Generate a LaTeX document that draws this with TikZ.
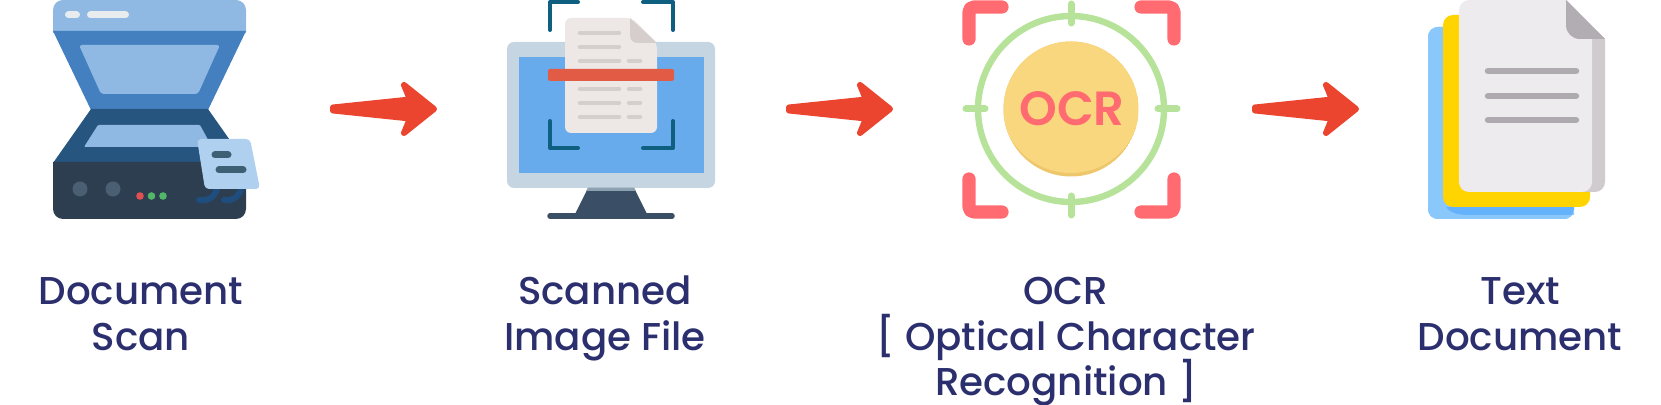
\documentclass[tikz,border=0pt]{standalone}
\usepackage{fontspec}
\setmainfont{Poppins}
\newfontfamily\labelfont{Poppins Medium}
\usetikzlibrary{calc}
\definecolor{labelink}{HTML}{2B2F6E}
\definecolor{arrowred}{HTML}{EB4530}
\definecolor{lidpale}{HTML}{8FB8E2}
\definecolor{lidblue}{HTML}{4480C0}
\definecolor{lidbar}{HTML}{E9ECEF}
\definecolor{deckblue}{HTML}{265580}
\definecolor{basedark}{HTML}{2C3E50}
\definecolor{knobgrey}{HTML}{4A6072}
\definecolor{ledred}{HTML}{E05050}
\definecolor{ledgreen}{HTML}{50B868}
\definecolor{sheetblue}{HTML}{B0D0EF}
\definecolor{sheetline}{HTML}{3E6074}
\definecolor{hookblue}{HTML}{1F4E7E}
\definecolor{bezel}{HTML}{C5D5E2}
\definecolor{screenblue}{HTML}{68ABEC}
\definecolor{standdark}{HTML}{3A4F65}
\definecolor{standtop}{HTML}{8CA2B0}
\definecolor{framepetrol}{HTML}{0F6080}
\definecolor{pagewarm}{HTML}{EDE7E6}
\definecolor{foldwarm}{HTML}{D5CECC}
\definecolor{textwarm}{HTML}{D4CFCD}
\definecolor{scanbar}{HTML}{E25B45}
\definecolor{ocrred}{HTML}{FF6B70}
\definecolor{ringgreen}{HTML}{B6E29A}
\definecolor{discyellow}{HTML}{F8D77F}
\definecolor{discshade}{HTML}{EEC66B}
\definecolor{stackblue}{HTML}{8AC8FC}
\definecolor{stackshade}{HTML}{63B2FB}
\definecolor{stackyellow}{HTML}{FFD400}
\definecolor{pagecool}{HTML}{EEEBEF}
\definecolor{pageedge}{HTML}{CFCBCE}
\definecolor{foldcool}{HTML}{B2ADB3}
\definecolor{textcool}{HTML}{AFAAAF}
\tikzset{
  steplabel/.style={font=\labelfont\fontsize{19.4pt}{22.75pt}\selectfont, text=labelink,
    align=center, inner sep=0pt, anchor=north},
  bar/.style={line cap=round, line width=#1*0.5pt},
}
% Tapered block arrow between two named points, built relative to its ends
\newcommand{\flowarrow}[2]{%
  \fill[arrowred, draw=arrowred, line width=3pt, line join=round]
    ($(#1)+(0,-1.5)$) -- ($(#2)+(-24,-9.5)$) -- ($(#2)+(-30,-24)$) -- (#2)
    -- ($(#2)+(-30,24)$) -- ($(#2)+(-24,9.5)$) -- ($(#1)+(0,1.5)$) -- cycle;}
\begin{document}
\begin{tikzpicture}[x=0.5pt,y=-0.5pt]
\useasboundingbox (0,0) rectangle (1661,405);

% Flatbed scanner
\fill[lidpale] (53,33) -- (53,10) arc[start angle=180,end angle=270,radius=10] -- (236,0)
  arc[start angle=-90,end angle=0,radius=10] -- (246,33) -- cycle;
\draw[lidbar, bar=7] (68.5,15) -- (76.5,15);
\draw[lidbar, bar=7] (90.5,15) -- (125.5,15);
\fill[lidblue] (53,31) -- (246,31) -- (208,110) -- (91,110) -- cycle;
\fill[lidpale, rounded corners=1.5pt] (79,45) -- (220,45) -- (198,94) -- (101,94) -- cycle;
\fill[deckblue] (91,109) -- (208,109) -- (246,163) -- (53,163) -- cycle;
\fill[lidpale, rounded corners=0.5pt] (98,125) -- (200,125) -- (212,147) -- (84,147) -- cycle;
\fill[basedark] (53,162) -- (246,162) -- (246,209) arc[start angle=0,end angle=90,radius=10]
  -- (63,219) arc[start angle=90,end angle=180,radius=10] -- cycle;
\fill[knobgrey] (80,189) circle[radius=7.5] (113,189) circle[radius=7.5];
\fill[ledred] (140,196) circle[radius=3.8];
\fill[ledgreen] (151.5,196) circle[radius=3.8] (163,196) circle[radius=3.8];
\draw[hookblue, bar=6] (199,200) .. controls (208,201) and (214,198) .. (217,189);
\draw[hookblue, bar=6] (224,200) .. controls (232,201) and (238,198) .. (241,189);
\fill[sheetblue, rounded corners=2pt] (197,139) -- (250,139) -- (260,189) -- (205,189) -- cycle;
\draw[sheetline, bar=7] (215,155) -- (228,155);
\draw[sheetline, bar=7] (219,170) -- (243,170);

% Arrow from the scanner to the monitor
\coordinate (scanOut) at (333,109);
\coordinate (imageIn) at (434,109);
\flowarrow{scanOut}{imageIn}

% Monitor showing the scanned page
\fill[bezel, rounded corners=3.5pt] (507,42) rectangle (715,188);
\fill[screenblue] (519,57) rectangle (704,173);
\fill[standdark] (588,188) -- (634,188) -- (647,214) -- (575,214) -- cycle;
\fill[standtop] (588,188) -- (634,188) -- (636,191) -- (586,191) -- cycle;
\draw[standdark, bar=5.5] (550,216) -- (672,216);
\draw[framepetrol, line width=2pt, line cap=round, line join=round]
  (550,30) -- (550,2) -- (578,2)
  (643,2) -- (673,2) -- (673,30)
  (550,121) -- (550,148) -- (578,148)
  (643,148) -- (673,148) -- (673,121);
\fill[pagewarm, rounded corners=3pt] (565,18) -- (632,18) -- (657,43) -- (657,133) -- (565,133) -- cycle;
\fill[foldwarm] (630,18) -- (657,43) -- (638,43)
  .. controls (633,43) and (630,40) .. (630,35) -- cycle;
\foreach \y in {33,47,61,89,103,117} \draw[textwarm, bar=4.5] (580,\y) -- (619,\y);
\foreach \y in {61,89,103,117} \draw[textwarm, bar=4.5] (629,\y) -- (640,\y);
\fill[scanbar, rounded corners=1pt] (548,69) rectangle (674,81);

% Arrow from the monitor to the OCR target
\coordinate (imageOut) at (789,109);
\coordinate (ocrIn) at (890,109);
\flowarrow{imageOut}{ocrIn}

% OCR target
\draw[ringgreen, line width=3.2pt] (1071,109) circle[radius=93];
\draw[ringgreen, bar=7] (1071,4) -- (1071,23);
\draw[ringgreen, bar=7] (1071,196) -- (1071,215);
\draw[ringgreen, bar=7] (966,109) -- (985,109);
\draw[ringgreen, bar=7] (1158,109) -- (1177,109);
\begin{scope}
  \clip (1071,109) circle[radius=67.5];
  \fill[discshade] (1071,109) circle[radius=67.5];
  \fill[discyellow] (1071,103) circle[radius=70];
\end{scope}
\draw[ocrred, line width=6.6pt, line cap=round, line join=round, rounded corners=2.5pt]
  (969,39) -- (969,7) -- (1002,7)
  (1141,7) -- (1174,7) -- (1174,39)
  (969,179) -- (969,212) -- (1002,212)
  (1141,212) -- (1174,212) -- (1174,179);
\node[inner sep=0pt, text=ocrred, font=\fontspec{Poppins SemiBold}\fontsize{24pt}{24pt}\selectfont] (ocrMark) at (1072,109) {OCR};

% Arrow from the OCR target to the text document
\coordinate (ocrOut) at (1255,109);
\coordinate (textIn) at (1356,109);
\flowarrow{ocrOut}{textIn}

% Stack of text pages
\fill[stackshade, rounded corners=5pt] (1428,27) rectangle (1574,219);
\fill[stackblue] (1438,27) -- (1500,27) -- (1500,200) -- (1448,207) -- (1443,207) -- (1428,207) -- (1428,37)
  arc[start angle=180,end angle=270,radius=10] -- cycle;
\fill[stackblue] (1428,205) -- (1445,205) .. controls (1448,212) and (1455,215) .. (1470,215)
  -- (1574,215) -- (1574,209) arc[start angle=0,end angle=90,radius=10] -- (1438,219)
  arc[start angle=90,end angle=180,radius=10] -- cycle;
\fill[stackyellow, rounded corners=5pt] (1443,15) rectangle (1590,207);
\fill[pageedge, rounded corners=5pt] (1560,30) rectangle (1605,192);
\fill[pagecool, rounded corners=5pt] (1459,-10) rectangle (1592,192);
\fill[white] (1566,-1) -- (1610,-1) -- (1610,39) -- (1605,39) -- cycle;
\fill[pagecool] (1459,10) arc[start angle=180,end angle=270,radius=10] -- (1566,0) -- (1566,40) -- (1459,40) -- cycle;
\fill[white] (1450,-1) -- (1469,-1) -- (1469,0) arc[start angle=270,end angle=180,radius=10] -- (1459,12) -- (1450,12) -- cycle;
\fill[foldcool] (1566,0) -- (1605,39) -- (1580,39)
  .. controls (1572,39) and (1566,33) .. (1566,25) -- cycle;
\foreach \y in {71,96,120} \draw[textcool, bar=6.5] (1488,\y) -- (1576,\y);

% Step captions, hung from the top of their first line
\node[steplabel] (scanLabel) at (141,272.5) {\strut Document\\\strut Scan};
\node[steplabel] (imageLabel) at (605,272.5) {\strut Scanned\\\strut Image File};
\node[steplabel] (ocrLabel) at (1066,272.5) {\strut OCR\\\strut \smash{[} Optical Character\\\rule{0pt}{15.9pt}Recognition \smash{]}};
\node[steplabel] (textLabel) at (1520,272.5) {\strut Text\\\strut Document};
\end{tikzpicture}
\end{document}
